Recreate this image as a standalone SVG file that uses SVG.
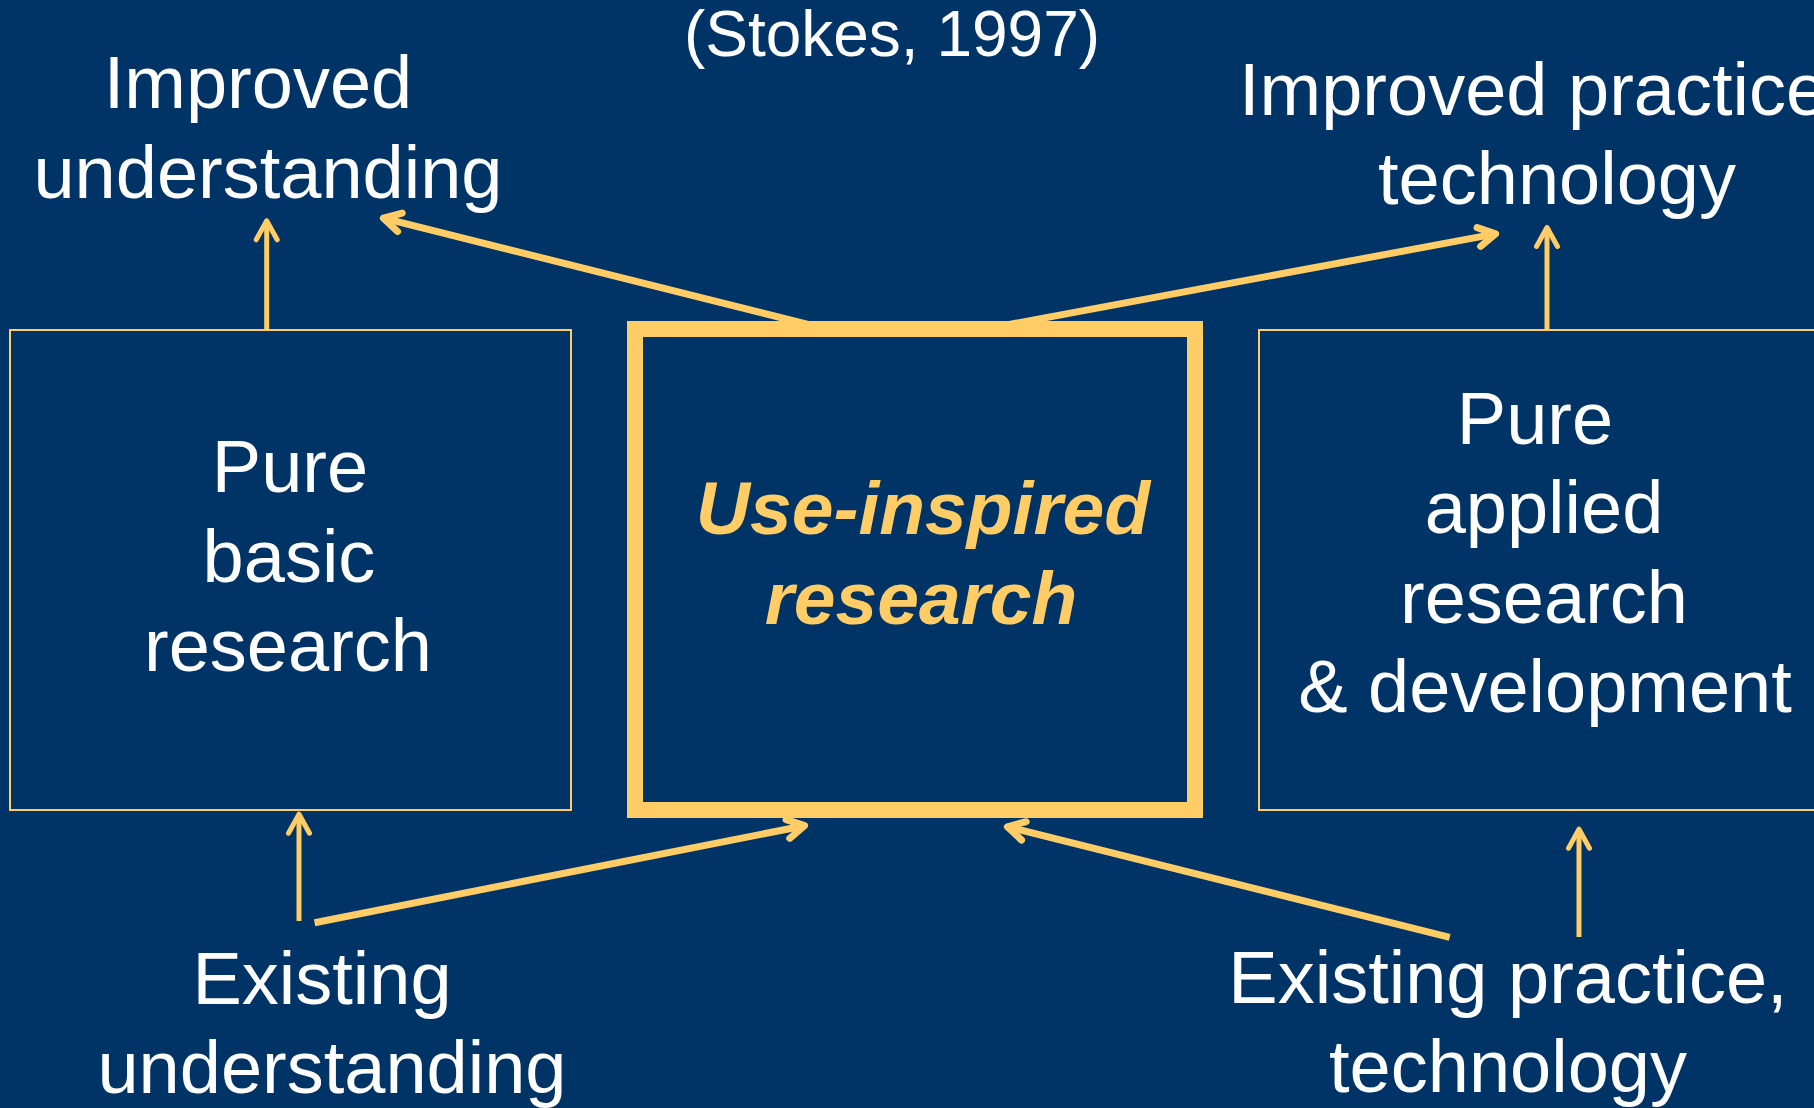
<svg xmlns="http://www.w3.org/2000/svg" width="1814" height="1108" viewBox="0 0 1814 1108">
  <defs>
    <style>
      .bg { fill: #003366; }
      .label { font-family: "Liberation Sans", Arial, sans-serif; font-size: 74px; fill: #FFFFFF; }
      .cite { font-family: "Liberation Sans", Arial, sans-serif; font-size: 64px; fill: #FFFFFF; }
      .focus { font-family: "Liberation Sans", Arial, sans-serif; font-size: 75px; font-weight: bold; font-style: italic; fill: #FFCC66; }
      .box { fill: #003366; stroke: #FFCC66; stroke-width: 2; }
      .box-main { fill: #003366; stroke: #FFCC66; stroke-width: 16; }
      .link { fill: none; stroke: #FFCC66; stroke-width: 7; }
      .link-thin { fill: none; stroke: #FFCC66; stroke-width: 5; }
    </style>
    <marker id="open-thick" markerUnits="userSpaceOnUse" viewBox="-30 -20 40 40" markerWidth="40" markerHeight="40" refX="0" refY="0" orient="auto" overflow="visible">
      <path d="M-17,-9.5 L0,0 L-17,9.5" fill="none" stroke="#FFCC66" stroke-width="7" stroke-linecap="round" stroke-linejoin="round"/>
    </marker>
    <marker id="open-thin" markerUnits="userSpaceOnUse" viewBox="-30 -20 40 40" markerWidth="40" markerHeight="40" refX="0" refY="0" orient="auto" overflow="visible">
      <path d="M-19,-10.5 L0,0 L-19,10.5" fill="none" stroke="#FFCC66" stroke-width="5" stroke-linecap="round" stroke-linejoin="round"/>
    </marker>
  </defs>

  <rect class="bg" x="0" y="0" width="1814" height="1108"/>

  <!-- citation -->
  <text class="cite" x="892" y="56" text-anchor="middle">(Stokes, 1997)</text>

  <!-- connectors -->
  <g id="connectors">
    <line class="link" x1="826" y1="329" x2="383.4" y2="218.1" marker-end="url(#open-thick)"/>
    <line class="link" x1="985" y1="329" x2="1495.6" y2="233.9" marker-end="url(#open-thick)"/>
    <line class="link" x1="314.6" y1="922.7" x2="804.6" y2="825.7" marker-end="url(#open-thick)"/>
    <line class="link" x1="1449.7" y1="937.3" x2="1007.4" y2="826.8" marker-end="url(#open-thick)"/>
    <line class="link-thin" x1="266.7" y1="330" x2="266.7" y2="220.8" marker-end="url(#open-thin)"/>
    <line class="link-thin" x1="1547" y1="336" x2="1547" y2="227.5" marker-end="url(#open-thin)"/>
    <line class="link-thin" x1="299" y1="921" x2="299" y2="814.2" marker-end="url(#open-thin)"/>
    <line class="link-thin" x1="1579" y1="937" x2="1579" y2="829.2" marker-end="url(#open-thin)"/>
  </g>

  <!-- outcome labels -->
  <g id="improved-understanding">
    <text class="label" x="258" y="108" text-anchor="middle">Improved</text>
    <text class="label" x="268" y="198" text-anchor="middle">understanding</text>
  </g>
  <g id="improved-practice">
    <text class="label" x="1239" y="115">Improved practice</text>
    <text class="label" x="1557" y="204" text-anchor="middle">technology</text>
  </g>

  <!-- research boxes -->
  <g id="pure-basic">
    <rect class="box" x="10" y="330" width="561" height="480"/>
    <text class="label" x="290" y="492" text-anchor="middle">Pure</text>
    <text class="label" x="289" y="582" text-anchor="middle">basic</text>
    <text class="label" x="288" y="671" text-anchor="middle">research</text>
  </g>
  <g id="use-inspired">
    <rect class="box-main" x="635" y="329" width="560" height="481"/>
    <text class="focus" x="923" y="534" text-anchor="middle">Use-inspired</text>
    <text class="focus" x="921" y="624" text-anchor="middle">research</text>
  </g>
  <g id="pure-applied">
    <rect class="box" x="1259" y="330" width="572" height="480"/>
    <text class="label" x="1535" y="444" text-anchor="middle">Pure</text>
    <text class="label" x="1544" y="533" text-anchor="middle">applied</text>
    <text class="label" x="1544" y="623" text-anchor="middle">research</text>
    <text class="label" x="1545" y="712" text-anchor="middle">&amp; development</text>
  </g>

  <!-- input labels -->
  <g id="existing-understanding">
    <text class="label" x="322" y="1004" text-anchor="middle">Existing</text>
    <text class="label" x="332" y="1093" text-anchor="middle">understanding</text>
  </g>
  <g id="existing-practice">
    <text class="label" x="1508" y="1003" text-anchor="middle">Existing practice,</text>
    <text class="label" x="1508" y="1092" text-anchor="middle">technology</text>
  </g>
</svg>
